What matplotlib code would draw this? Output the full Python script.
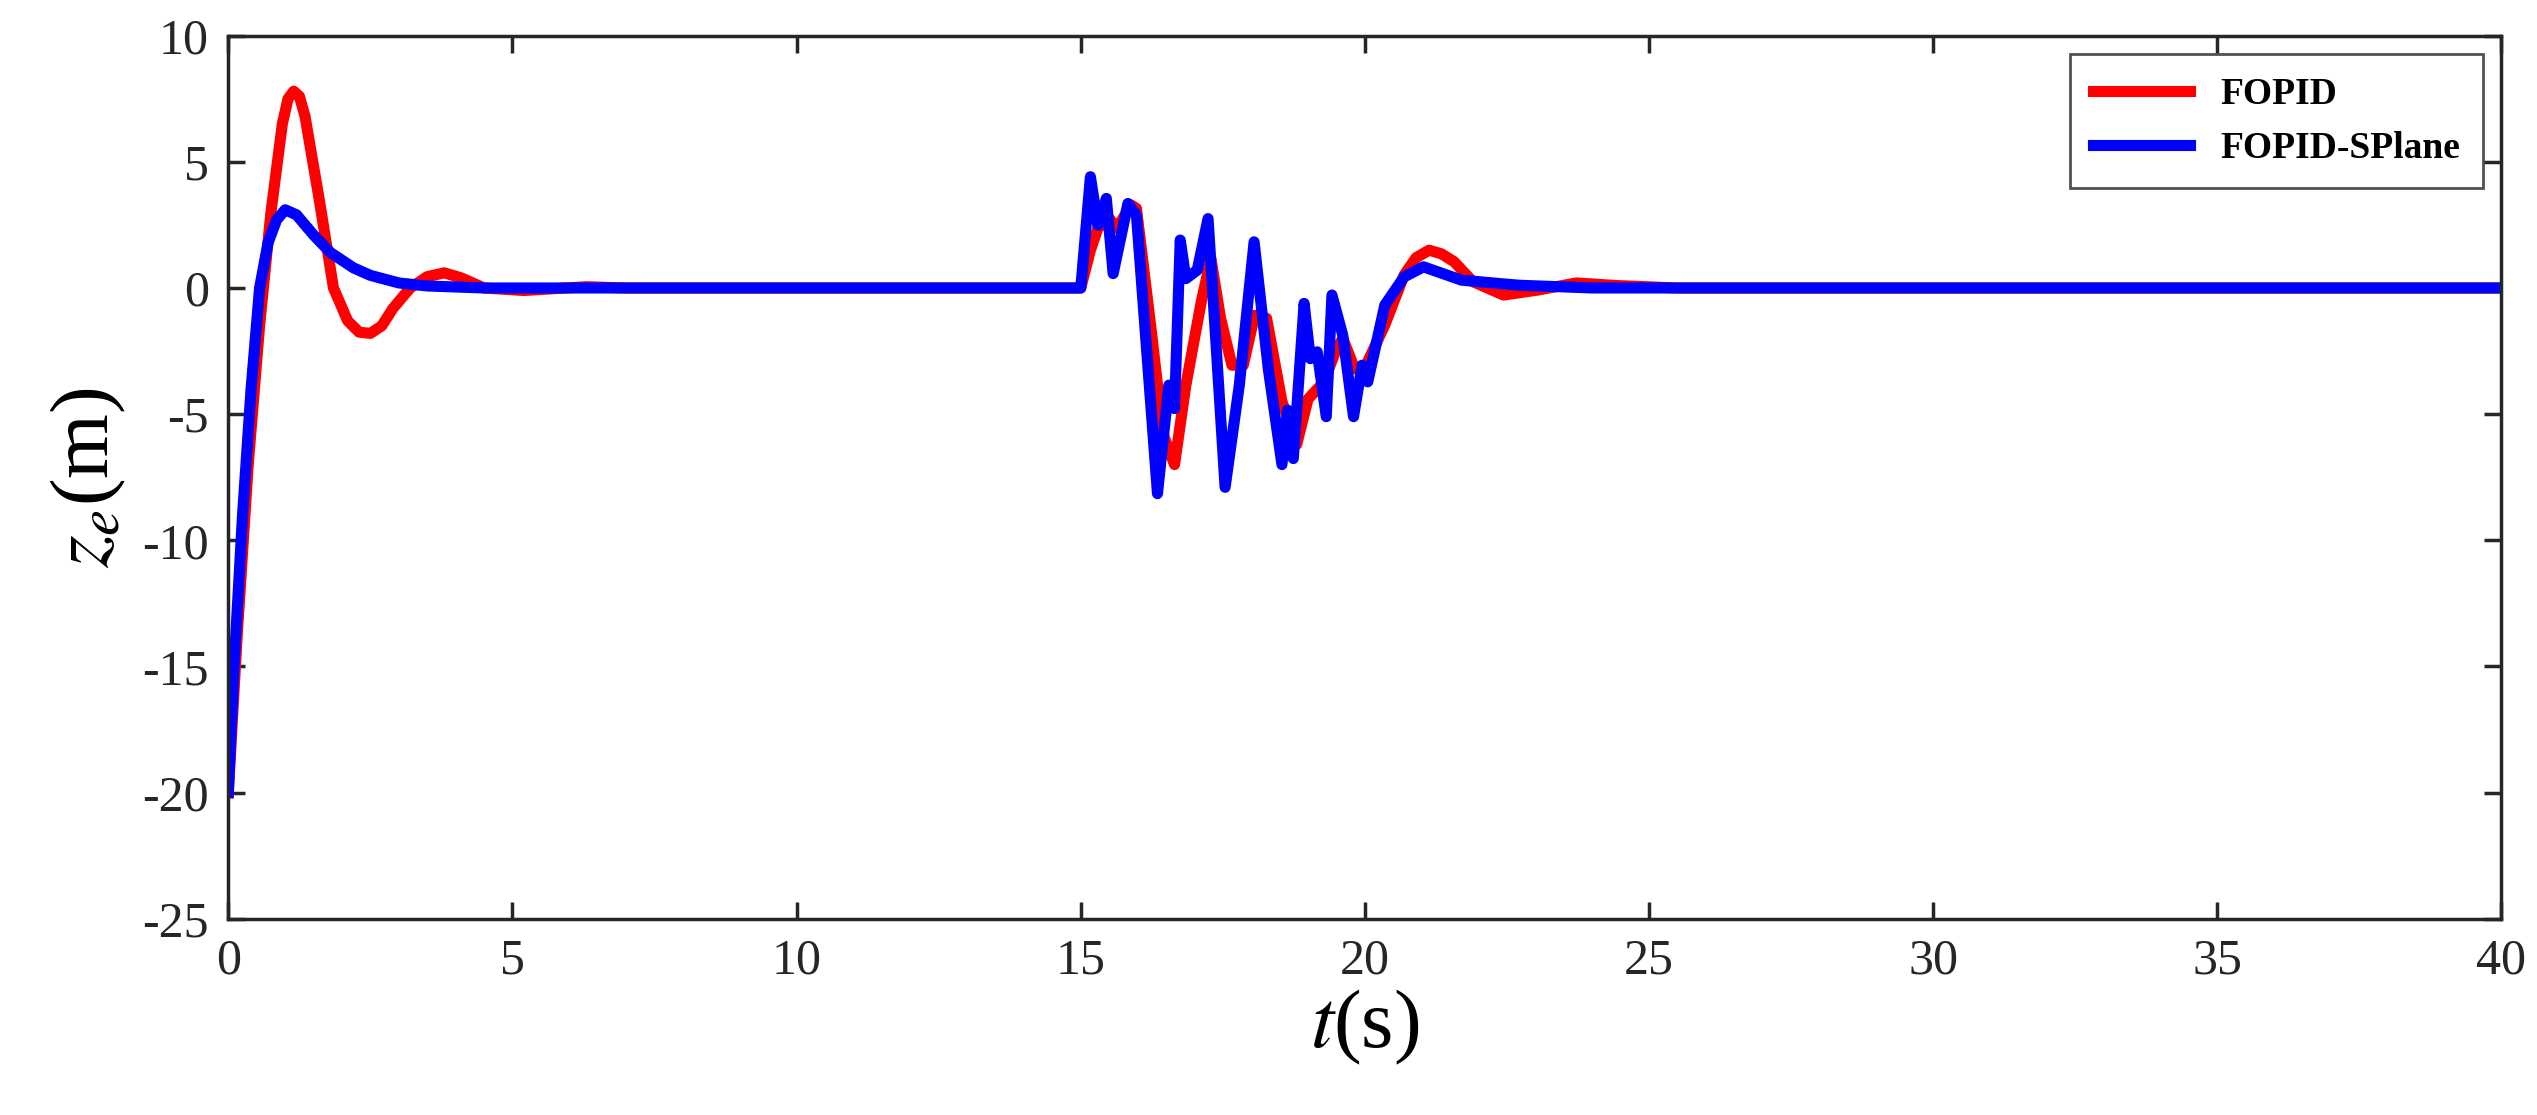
import numpy as np
import matplotlib.pyplot as plt

plt.rcParams['font.family'] = ['Liberation Serif', 'DejaVu Serif']
plt.rcParams['mathtext.fontset'] = 'stix'
plt.rcParams['axes.unicode_minus'] = False

# FOPID response
t_fopid = [0, 0.15, 0.35, 0.55, 0.75, 0.95, 1.05, 1.15, 1.25, 1.35, 1.6, 1.85, 2.1, 2.3, 2.5, 2.7, 2.9, 3.2, 3.5, 3.8,
           4.1, 4.5, 5.2, 6.3, 7.0,
           15.0, 15.17, 15.3, 15.5, 15.64, 15.88, 15.98, 16.25, 16.45, 16.65, 16.85, 17.12, 17.29, 17.46, 17.66, 17.86,
           18.06, 18.27, 18.54, 18.8, 19.0, 19.28, 19.48, 19.61, 19.82, 20.02, 20.35, 20.69, 20.9, 21.13, 21.35, 21.57,
           21.9, 22.44, 23.05, 23.72, 24.4, 25.5, 40]
z_fopid = [-20, -14, -7, -1.5, 3.0, 6.5, 7.5, 7.8, 7.6, 6.8, 3.5, 0.0, -1.3, -1.75, -1.8, -1.5, -0.8, 0.0, 0.45, 0.6,
           0.4, 0.0, -0.1, 0.05, 0,
           0, 1.5, 2.36, 2.76, 2.36, 3.3, 3.15, -1.87, -5.8, -7.0, -3.85, -0.55, 1.17, -1.2, -3.06, -3.06,
           -1.08, -1.2, -4.5, -6.2, -4.4, -3.72, -2.53, -2.0, -3.2, -3.06, -1.47, 0.51, 1.2, 1.5, 1.35, 1.04,
           0.25, -0.28, -0.08, 0.2, 0.1, 0, 0]

# FOPID-SPlane response
t_splane = [0, 0.1, 0.25, 0.4, 0.55, 0.7, 0.85, 1.0, 1.2, 1.5, 1.8, 2.2, 2.5, 3.0, 3.5, 4.5,
            15.0, 15.17, 15.3, 15.45, 15.57, 15.83, 15.98, 16.35, 16.55, 16.65, 16.75, 16.85, 17.05, 17.24, 17.54,
            17.79, 18.05, 18.3, 18.54, 18.64, 18.74, 18.93, 19.04, 19.16, 19.32, 19.42, 19.61, 19.8, 19.95, 20.05,
            20.35, 20.69, 21.03, 21.7, 22.71, 24.0, 40]
z_splane = [-20, -15, -9, -4, 0, 1.8, 2.7, 3.1, 2.9, 2.1, 1.4, 0.8, 0.5, 0.2, 0.08, 0,
            0, 4.41, 2.49, 3.55, 0.57, 3.35, 2.89, -8.15, -3.85, -4.78, 1.9, 0.37, 0.71, 2.75, -7.9,
            -3.85, 1.83, -3.2, -7.0, -4.84, -6.76, -0.61, -2.8, -2.53, -5.1, -0.28, -1.87, -5.1, -3.06, -3.72,
            -0.68, 0.44, 0.84, 0.31, 0.11, 0, 0]

fig = plt.figure(figsize=(25.37, 11.15), dpi=100)
ax = fig.add_axes([0.09, 0.176, 0.896, 0.792])
ax.plot(t_fopid, z_fopid, color='#ff0000', lw=8, label='FOPID')
ax.plot(t_splane, z_splane, color='#0000ff', lw=8, label='FOPID-SPlane')
ax.set_xlim(0, 40)
ax.set_ylim(-25, 10)
ax.set_xticks(np.arange(0, 41, 5))
ax.set_yticks(np.arange(-25, 11, 5))
ax.tick_params(direction='in', length=12, width=2.5, labelsize=36, top=True, right=True, pad=14,
               colors='#262626')
for s in ax.spines.values():
    s.set_linewidth(2.5)
    s.set_color('#262626')
ax.set_xlabel(r'$t$(s)', fontsize=60, labelpad=2)
ax.set_ylabel(r'$z_e$(m)', fontsize=60, labelpad=10)
leg = ax.legend(loc='upper right', frameon=True, fancybox=False, edgecolor='#262626',
                handlelength=2.6, borderpad=0.6, prop={'weight': 'bold', 'size': 27})
leg.get_frame().set_linewidth(2)
fig.savefig('out.png', dpi=100)
